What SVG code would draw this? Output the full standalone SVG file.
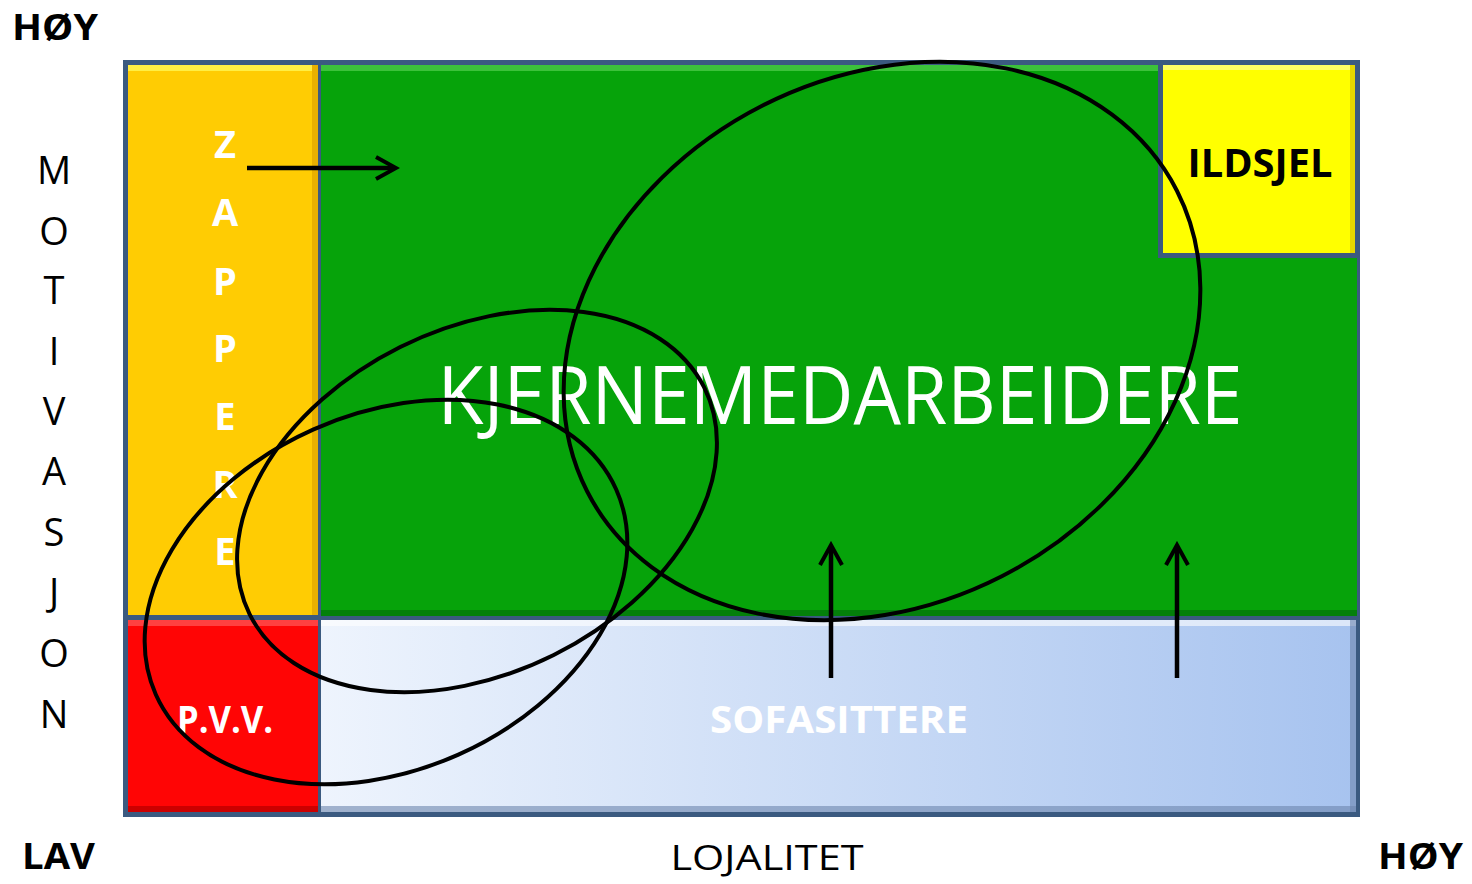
<svg xmlns="http://www.w3.org/2000/svg" width="1472" height="884" viewBox="0 0 1472 884">
<defs>
<style>
.lbl{font-family:"Open Sans","Liberation Sans",sans-serif;}
.b{font-weight:bold;}
.w{fill:#ffffff;}
.k{fill:#000000;}
.ell{fill:none;stroke:#000;stroke-width:4;}
.arr{fill:none;stroke:#000;stroke-width:4.5;}
</style>
<linearGradient id="sofaG" x1="0" y1="0" x2="1" y2="0">
<stop offset="0" stop-color="#eef4fd"/>
<stop offset="1" stop-color="#a7c3ef"/>
</linearGradient>
<marker id="chevL" markerWidth="28" markerHeight="28" refX="22" refY="14" orient="auto" markerUnits="userSpaceOnUse" viewBox="0 0 28 28">
<path d="M4,3 L24,14 L4,25" fill="none" stroke="#000" stroke-width="4"/>
</marker>
</defs>
<rect width="1472" height="884" fill="#ffffff"/>
<rect x="123" y="60" width="1237" height="757" fill="#3b5a80"/>

<g id="zappere">
<rect x="128" y="65" width="190" height="550" fill="#ffcc03"/>
<rect x="128" y="65" width="190" height="6" fill="#ffee44"/>
<rect x="312" y="65" width="6" height="550" fill="#e9b000"/>
<g class="lbl b w" font-size="38" text-anchor="middle">
<text x="225" y="158">Z</text>
<text x="225" y="226">A</text>
<text x="225" y="295">P</text>
<text x="225" y="362">P</text>
<text x="225" y="430">E</text>
<text x="225" y="498">R</text>
<text x="225" y="565">E</text>
</g>
</g>

<g id="kjerne">
<rect x="321" y="65" width="1036" height="551" fill="#06a30a"/>
<rect x="321" y="65" width="1036" height="6" fill="#3cc23a"/>
<rect x="321" y="610" width="1036" height="6" fill="#04800a"/>
<text class="lbl w" x="840" y="424" font-size="80" text-anchor="middle" textLength="805" lengthAdjust="spacingAndGlyphs">KJERNEMEDARBEIDERE</text>
</g>

<g id="ildsjel">
<rect x="1158" y="60" width="202" height="198" fill="#3b5a80"/>
<rect x="1163" y="65" width="192" height="188" fill="#ffff00"/>
<rect x="1163" y="65" width="192" height="5" fill="#ffff66"/>
<rect x="1350" y="65" width="5" height="188" fill="#e6d800"/>
<text class="lbl b k" x="1260" y="177" font-size="40" text-anchor="middle" textLength="145" lengthAdjust="spacingAndGlyphs">ILDSJEL</text>
</g>

<g id="pvv">
<rect x="128" y="620" width="190" height="192" fill="#ff0505"/>
<rect x="128" y="620" width="190" height="6" fill="#ff4040"/>
<rect x="128" y="806" width="190" height="6" fill="#cc0000"/>
<text class="lbl b w" x="225" y="733" font-size="38" text-anchor="middle" textLength="96" lengthAdjust="spacingAndGlyphs">P.V.V.</text>
</g>

<g id="sofasittere">
<rect x="321" y="620" width="1035" height="192" fill="url(#sofaG)"/>
<rect x="321" y="620" width="1035" height="6" fill="#ffffff" opacity="0.6"/>
<rect x="321" y="806" width="1035" height="6" fill="#6d86ad" opacity="0.6"/>
<rect x="1350" y="620" width="6" height="192" fill="#6d86ad" opacity="0.6"/>
<text class="lbl b w" x="839" y="733" font-size="38" text-anchor="middle" textLength="258" lengthAdjust="spacingAndGlyphs">SOFASITTERE</text>
</g>

<g id="axes" class="lbl k">
<text class="b" x="12" y="40" font-size="36" textLength="86" lengthAdjust="spacingAndGlyphs">HØY</text>
<text class="b" x="22" y="869" font-size="36" textLength="73" lengthAdjust="spacingAndGlyphs">LAV</text>
<text class="b" x="1378" y="869" font-size="36" textLength="85" lengthAdjust="spacingAndGlyphs">HØY</text>
<text x="767" y="870" font-size="35" text-anchor="middle" textLength="193" lengthAdjust="spacingAndGlyphs">LOJALITET</text>
<g font-size="38" text-anchor="middle">
<text x="54" y="184">M</text>
<text x="54" y="245">O</text>
<text x="54" y="304">T</text>
<text x="54" y="365">I</text>
<text x="54" y="425">V</text>
<text x="54" y="485">A</text>
<text x="54" y="546">S</text>
<text x="54" y="606">J</text>
<text x="54" y="667">O</text>
<text x="54" y="728">N</text>
</g>
</g>

<g id="connectors">
<ellipse class="ell" cx="882" cy="341" rx="331" ry="264" transform="rotate(-27 882 341)"/>
<ellipse class="ell" cx="477" cy="501" rx="254" ry="172" transform="rotate(-26.5 477 501)"/>
<ellipse class="ell" cx="386" cy="592" rx="252" ry="178" transform="rotate(-24 386 592)"/>
<line class="arr" x1="247" y1="168" x2="394" y2="168" marker-end="url(#chevL)"/>
<line class="arr" x1="831" y1="678" x2="831" y2="547" marker-end="url(#chevL)"/>
<line class="arr" x1="1177" y1="678" x2="1177" y2="547" marker-end="url(#chevL)"/>
</g>
</svg>
